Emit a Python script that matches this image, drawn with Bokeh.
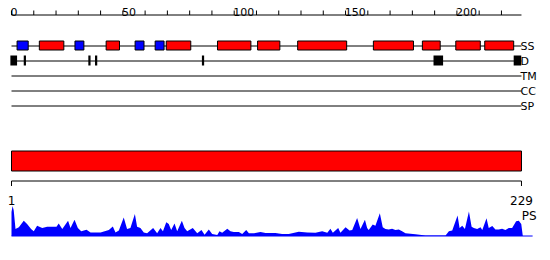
from bokeh.plotting import figure
from bokeh.models import Range1d, ColumnDataSource
from bokeh.core.properties import value
from bokeh.embed import file_html
from bokeh.resources import INLINE

# ---------------- data ----------------
seq_len = 229
top_ticks = list(range(0, 230, 10))
top_labels = [0, 50, 100, 150, 200]
bottom_ticks = [0, 229]
bottom_labels = ["1", "229"]

track_names = ["SS", "D", "TM", "CC", "SP"]

# secondary structure elements (residue edges), H = helix (red), E = strand (blue)
ss_start = [2.5, 12.5, 28.5, 42.5, 55.5, 64.5, 69.5, 92.5, 110.5, 128.5, 162.5, 184.5, 199.5, 212.5]
ss_end = [7.5, 23.5, 32.5, 48.5, 59.5, 68.5, 80.5, 107.5, 120.5, 150.5, 180.5, 192.5, 210.5, 225.5]
ss_type = ["E", "H", "E", "H", "E", "E", "H", "H", "H", "H", "H", "H", "H", "H"]

# disordered regions
dis_start = [-0.5, 5.5, 34.5, 37.5, 85.5, 189.5, 225.5]
dis_end = [2.5, 6.5, 35.5, 38.5, 86.5, 193.8, 228.9]

# PS profile (position, score)
ps_pos = [0, 0.5, 1.0, 1.8, 3.3, 5.5, 7.0, 8.8, 10.0, 11.5, 13.8, 16.0, 18.3, 20.2, 21.2, 22.8,
          25.4, 26.5, 28.3, 29.8, 31.3, 33.7, 35.5, 40.0, 43.7, 45.5, 46.7, 48.2, 50.4,
          51.9, 53.4, 55.4, 56.4, 57.9, 59.4, 60.9, 63.6, 65.4, 66.9, 68.0, 69.5, 70.6,
          71.7, 73.2, 74.4, 76.5, 77.7, 78.9, 81.4, 83.4, 85.3, 86.7, 88.6, 90.1, 92.4,
          93.4, 94.6, 96.9, 98.3, 99.8, 102.1, 103.6, 105.4, 106.6, 108.8, 111.8, 114.1,
          118.5, 121.5, 124.5, 129.0, 132.8, 136.5, 139.5, 141.8, 143.2, 144.3, 146.7,
          147.7, 150.0, 151.8, 153.0, 155.2, 156.7, 158.7, 159.7, 160.4, 162.2, 163.4,
          165.4, 166.7, 167.9, 169.4, 170.9, 172.4, 173.9, 175.4, 176.9, 181.4, 185.9,
          190.4, 194.9, 196.4, 197.9, 200.3, 201.2, 202.4, 203.6, 205.4, 206.6, 207.6,
          209.1, 210.6, 211.4, 213.3, 214.3, 215.9, 217.3, 218.8, 220.3, 221.8, 223.3,
          224.8, 226.6, 227.8, 228.9, 229.6]
ps_val = [0.80, 1.0, 0.85, 0.23, 0.29, 0.51, 0.40, 0.23, 0.16, 0.34, 0.27, 0.31, 0.31, 0.31, 0.42, 0.23,
          0.51, 0.27, 0.54, 0.27, 0.16, 0.21, 0.12, 0.12, 0.20, 0.32, 0.12, 0.18, 0.62,
          0.23, 0.27, 0.73, 0.31, 0.27, 0.12, 0.09, 0.27, 0.09, 0.27, 0.16, 0.46, 0.40,
          0.20, 0.42, 0.16, 0.51, 0.27, 0.16, 0.27, 0.09, 0.20, 0.04, 0.22, 0.07, 0.03,
          0.16, 0.11, 0.24, 0.16, 0.13, 0.13, 0.07, 0.20, 0.09, 0.09, 0.13, 0.10,
          0.10, 0.07, 0.07, 0.14, 0.12, 0.11, 0.16, 0.11, 0.24, 0.11, 0.27,
          0.11, 0.29, 0.18, 0.20, 0.60, 0.23, 0.54, 0.27, 0.20, 0.38, 0.34,
          0.76, 0.29, 0.23, 0.22, 0.24, 0.20, 0.22, 0.16, 0.09, 0.06, 0.02,
          0.02, 0.02, 0.16, 0.18, 0.68, 0.27, 0.34, 0.23, 0.82, 0.31, 0.27,
          0.23, 0.29, 0.20, 0.59, 0.27, 0.33, 0.22, 0.22, 0.24, 0.20, 0.27,
          0.27, 0.49, 0.51, 0.40, 0.0]

# ---------------- layout / style ----------------
W, H = 550, 260
PXU = 2.227          # pixels per residue
X_OFF = 11           # pixel of residue 0
FONT = value("DejaVu Sans")

track_y = [45.5, 60.5, 75.5, 90.5, 105.5]
ss_colors = {"H": "#ff0000", "E": "#0000ff"}

x_start = -X_OFF / PXU
p = figure(width=W, height=H, output_backend="svg", toolbar_location=None,
           x_range=Range1d(x_start, x_start + W / PXU), y_range=Range1d(H, 0),
           x_axis_location=None, y_axis_location=None,
           min_border=0, min_border_left=0, min_border_right=0,
           min_border_top=0, min_border_bottom=0)
p.grid.visible = False
p.outline_line_color = None
p.background_fill_color = "white"
p.border_fill_color = "white"

# PS range: score 0 at 235.5 px from top, score 1 at 30 px above
ps_s = -(H - 235.5) / 30.0
p.extra_y_ranges = {"ps": Range1d(ps_s, ps_s + H / 30.0)}

# top ruler
p.segment(x0=[0], x1=[seq_len], y0=[14.5], y1=[14.5], line_color="black", line_width=1)
p.segment(x0=top_ticks, x1=top_ticks, y0=[10] * len(top_ticks), y1=[14.5] * len(top_ticks),
          line_color="black", line_width=1)
p.text(x=[t - 0.4 for t in top_labels], y=[11] * len(top_labels), text=[str(t) for t in top_labels],
       text_font=FONT, text_font_size="11px", text_align="left", text_baseline="alphabetic",
       text_color="black")

# track lines and labels
p.segment(x0=[0] * len(track_y), x1=[seq_len] * len(track_y), y0=track_y, y1=track_y,
          line_color="black", line_width=1)
p.text(x=[seq_len - 0.4] * len(track_names), y=track_y, text=track_names, text_font=FONT,
       text_font_size="11px", text_align="left", text_baseline="middle", text_color="black")

# SS boxes
ss_src = ColumnDataSource(dict(left=ss_start, right=ss_end,
                               color=[ss_colors[t] for t in ss_type]))
p.quad(left="left", right="right", top=40.5, bottom=49.5, source=ss_src,
       fill_color="color", line_color="black", line_width=1)

# disorder boxes
p.quad(left=dis_start, right=dis_end, top=55, bottom=65, fill_color="black", line_color=None)

# big red bar
p.quad(left=[0], right=[seq_len], top=[150.5], bottom=[170.5], fill_color="#ff0000",
       line_color="black", line_width=1)

# bottom ruler
p.segment(x0=[0], x1=[seq_len], y0=[180.5], y1=[180.5], line_color="black", line_width=1)
p.segment(x0=bottom_ticks, x1=bottom_ticks, y0=[180.5] * 2, y1=[185.5] * 2,
          line_color="black", line_width=1)
p.text(x=bottom_ticks, y=[200] * 2, text=bottom_labels, text_font=FONT, text_font_size="12px",
       text_align="center", text_baseline="alphabetic", text_color="black")
p.text(x=[seq_len + 0.1], y=[215], text=["PS"], text_font=FONT, text_font_size="12px",
       text_align="left", text_baseline="alphabetic", text_color="black")

# PS profile
p.varea(x=ps_pos, y1=[0] * len(ps_pos), y2=ps_val, y_range_name="ps", fill_color="#0000ff")
p.segment(x0=[0], x1=[seq_len + 5], y0=[0], y1=[0], y_range_name="ps",
          line_color="#0000ff", line_width=1)

open("out.html", "w").write(file_html(p, INLINE))
